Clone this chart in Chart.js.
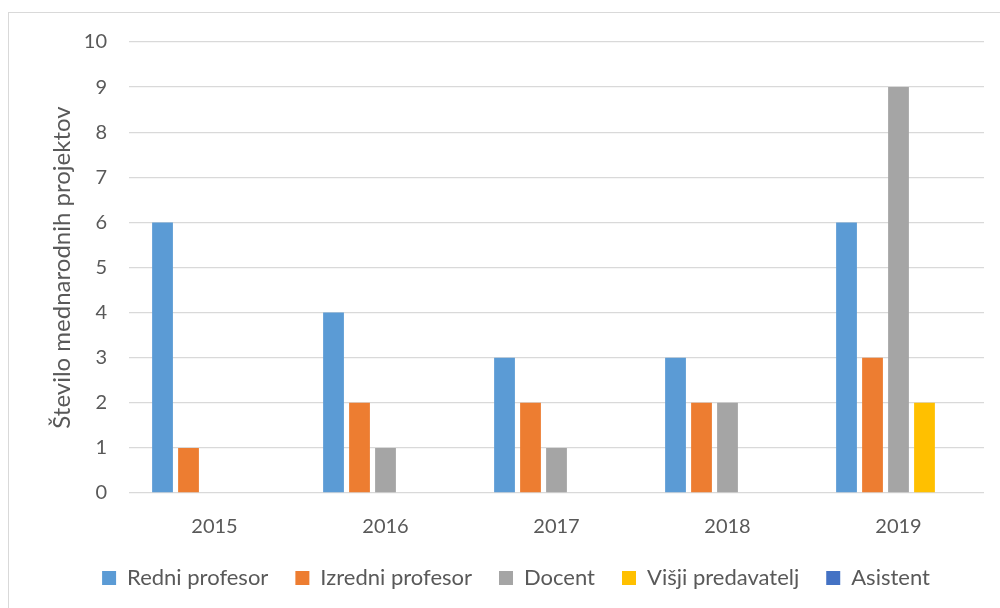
<!DOCTYPE html>
<html>
<head>
<meta charset="utf-8">
<script src="https://cdn.jsdelivr.net/npm/chart.js@4"></script>
<style>
  html, body { margin: 0; padding: 0; background: #fff; }
  #wrap { position: relative; width: 1000px; height: 608px; overflow: hidden; }
  #frame { position: absolute; left: 8px; top: 12px; width: 1010px; height: 620px; border: 1px solid #D9D9D9; box-sizing: border-box; }
  canvas { position: absolute; left: 0; top: 0; }
</style>
</head>
<body>
<div id="wrap">
  <div id="frame"></div>
  <canvas id="myChart" width="1000" height="608"></canvas>
</div>
<script>
const years = ['2015', '2016', '2017', '2018', '2019'];
const seriesNames = ['Redni profesor', 'Izredni profesor', 'Docent', 'Višji predavatelj', 'Asistent'];
const redni = [6, 4, 3, 3, 6];
const izredni = [1, 2, 2, 2, 3];
const docent = [0, 1, 1, 2, 9];
const visji = [0, 0, 0, 0, 2];
const asistent = [0, 0, 0, 0, 0];
const yTicks = [0, 1, 2, 3, 4, 5, 6, 7, 8, 9, 10];
const colors = ['#5B9BD5', '#ED7D31', '#A5A5A5', '#FFC000', '#4472C4'];

const textColor = '#595959';
const gridColor = '#D9D9D9';
const fontFamily = 'Lato, "Open Sans", sans-serif';

const allSeries = [redni, izredni, docent, visji, asistent];

new Chart(document.getElementById('myChart'), {
  type: 'bar',
  data: {
    labels: years,
    datasets: allSeries.map((vals, i) => ({
      label: seriesNames[i],
      data: vals,
      backgroundColor: colors[i],
      borderWidth: 0,
      barPercentage: 0.8,
      categoryPercentage: 0.76
    }))
  },
  options: {
    responsive: false,
    animation: false,
    layout: { padding: { left: 48, right: 16, top: 42, bottom: 9 } },
    plugins: {
      tooltip: { enabled: false },
      legend: {
        position: 'bottom',
        labels: {
          color: textColor,
          font: { family: fontFamily, size: 22 },
          boxWidth: 14,
          boxHeight: 14,
          padding: 27
        }
      }
    },
    scales: {
      x: {
        grid: { display: false },
        border: { display: false },
        ticks: { color: textColor, font: { family: fontFamily, size: 20 }, padding: 14 },
        afterFit: scale => { scale.height = 47; }
      },
      y: {
        min: 0,
        max: 10,
        afterBuildTicks: scale => { scale.ticks = yTicks.map(v => ({ value: v })); },
        grid: { color: gridColor, lineWidth: 1.3, drawTicks: false },
        border: { display: false },
        ticks: { color: textColor, font: { family: fontFamily, size: 20 }, padding: 22 },
        title: {
          display: true,
          text: 'Število mednarodnih projektov',
          color: textColor,
          font: { family: fontFamily, size: 24 },
          padding: 0
        },
        afterFit: scale => { scale.width = 81; }
      }
    }
  }
});
</script>
</body>
</html>
